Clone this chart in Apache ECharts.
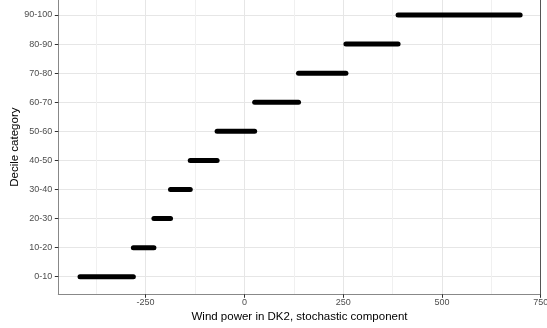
<!DOCTYPE html>
<html>
<head>
<meta charset="utf-8">
<script src="https://cdn.jsdelivr.net/npm/echarts@6/dist/echarts.min.js"></script>
<style>
  html, body { margin: 0; padding: 0; background: #fff; }
  #chart { width: 547px; height: 328px; }
</style>
</head>
<body>
<div id="chart"></div>
<script>
// decile categories, bottom to top
const categories = ['0-10', '10-20', '20-30', '30-40', '40-50', '50-60', '60-70', '70-80', '80-90', '90-100']
// lowest and highest value of the stochastic component inside each decile
const segStart = [-416, -281, -229, -187, -137, -69, 26, 137, 257, 389]
const segEnd = [-281, -229, -187, -137, -69, 26, 137, 257, 389, 698]
// axis ticks
const xMajorTicks = [-250, 0, 250, 500, 750]
const xMinorTicks = [-375, -125, 125, 375, 625]
const yTicks = categories.map((c, i) => i)

const myChart = echarts.init(document.getElementById('chart'))

const labelFont = { fontFamily: 'Liberation Sans, Arial, sans-serif', fontSize: 9, color: '#4d4d4d' }
const titleFont = { fontFamily: 'Liberation Sans, Arial, sans-serif', fontSize: 11.5, color: '#000' }

const option = {
  backgroundColor: '#fff',
  animation: false,
  grid: { left: 58.3, right: 6.3, top: 0, bottom: 33.7, containLabel: false, outerBoundsMode: 'none' },
  xAxis: [
    {
      type: 'value',
      min: -471,
      max: 750,
      name: 'Wind power in DK2, stochastic component',
      nameLocation: 'middle',
      nameGap: 16.5,
      nameMoveOverlap: false,
      nameTextStyle: titleFont,
      axisLine: { show: true, onZero: false, lineStyle: { color: '#888', width: 1 } },
      axisTick: { show: true, length: 3.5, customValues: xMajorTicks, lineStyle: { color: '#333' } },
      axisLabel: { customValues: xMajorTicks, margin: 4, hideOverlap: false, ...labelFont },
      splitLine: { show: true, lineStyle: { color: '#e6e6e6', width: 1 } },
    },
    {
      type: 'value',
      min: -471,
      max: 750,
      position: 'top',
      axisLine: { show: false, onZero: false },
      axisTick: { show: false, customValues: xMinorTicks },
      axisLabel: { show: false },
      splitLine: { show: true, lineStyle: { color: '#f0f0f0', width: 1 } },
    },
  ],
  yAxis: [
    {
      type: 'value',
      min: -0.605,
      max: 9.516,
      name: 'Decile category',
      nameLocation: 'middle',
      nameGap: 37,
      nameMoveOverlap: false,
      nameTextStyle: titleFont,
      axisLine: { show: true, onZero: false, lineStyle: { color: '#888', width: 1 } },
      axisTick: { show: true, length: 3.5, customValues: yTicks, lineStyle: { color: '#333' } },
      axisLabel: {
        customValues: yTicks,
        margin: 6,
        formatter: (v) => categories[Math.round(v)],
        ...labelFont,
      },
      splitLine: { show: true, lineStyle: { color: '#e6e6e6', width: 1 } },
    },
    {
      type: 'value',
      min: -0.605,
      max: 9.516,
      position: 'right',
      axisLine: { show: true, onZero: false, lineStyle: { color: '#555', width: 1 } },
      axisTick: { show: false },
      axisLabel: { show: false },
      splitLine: { show: false },
    },
  ],
  series: categories.map((c, i) => ({
    name: c,
    type: 'line',
    xAxisIndex: 0,
    yAxisIndex: 0,
    symbol: 'none',
    lineStyle: { color: '#000', width: 5, cap: 'round' },
    data: [
      [segStart[i], i],
      [segEnd[i], i],
    ],
  })),
}

myChart.setOption(option)
</script>
</body>
</html>
